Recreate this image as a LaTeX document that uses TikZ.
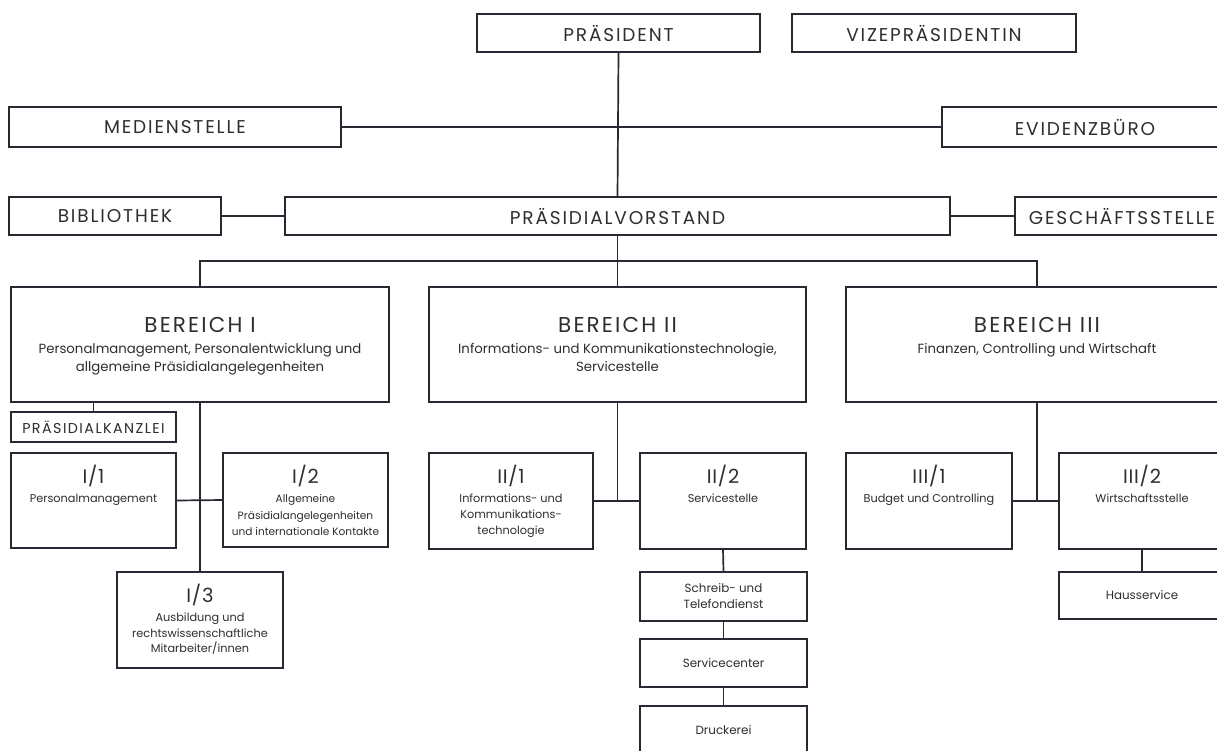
\documentclass[tikz,border=0pt]{standalone}
\usepackage{fontspec}
\setmainfont{Poppins}
\newfontfamily\capsfont[LetterSpace=10]{Poppins}
\newfontfamily\numfont[LetterSpace=4]{Poppins}
\usetikzlibrary{calc}
\definecolor{ink}{HTML}{2B2733}
\definecolor{txt}{HTML}{2E2E30}
\tikzset{
  box/.style={draw=ink, line width=1.8pt, rectangle, inner sep=0pt, outer sep=0pt, fill=white},
  conn/.style={draw=ink, line width=1.7pt},
  capbig/.style={font=\capsfont\fontsize{18.5}{20}\selectfont, text=txt},
  capsmall/.style={font=\capsfont\fontsize{14.3}{16}\selectfont, text=txt},
  titleB/.style={font=\capsfont\fontsize{21.5}{24}\selectfont, text=txt, inner sep=0pt},
  subB/.style={font=\fontsize{13.3}{18}\selectfont, text=txt, align=center, inner sep=0pt, anchor=north},
  titleS/.style={font=\numfont\fontsize{19.5}{22}\selectfont, text=txt, inner sep=0pt},
  subS/.style={font=\fontsize{11.3}{16}\selectfont, text=txt, align=center, inner sep=0pt, anchor=north},
  subT/.style={font=\fontsize{10.6}{16.8}\selectfont, text=txt, align=center, inner sep=0pt, anchor=north},
  small/.style={font=\fontsize{11.9}{16}\selectfont, text=txt, align=center},
}
\begin{document}
\begin{tikzpicture}[x=1pt,y=-1pt]
\useasboundingbox (0,0) rectangle (1217,750);
\clip (0,0) rectangle (1217,750);
\fill[white] (0,0) rectangle (1217,750);

% top level
\node[box, capbig, minimum width=283pt, minimum height=38pt] (pres) at (618.5,33) {PRÄSIDENT};
\node[box, capbig, minimum width=284pt, minimum height=38pt] (vize) at (934,33) {VIZEPRÄSIDENTIN};
\node[box, capbig, minimum width=332pt, minimum height=40pt] (med) at (175,127) {MEDIENSTELLE};
\node[box, capbig, minimum width=286pt, minimum height=40pt] (evid) at (1085,127) {EVIDENZBÜRO};
\node[box, capbig, minimum width=212pt, minimum height=38pt] (bib) at (115,216) {BIBLIOTHEK};
\node[box, capbig, minimum width=665pt, minimum height=38pt] (pv) at (617.5,216) {PRÄSIDIALVORSTAND};
\node[box, capbig, minimum width=214pt, minimum height=38pt] (gesch) at (1122,216) {GESCHÄFTSSTELLE};

% Bereiche
\node[box, minimum width=378pt, minimum height=115pt] (b1) at (200,344.5) {};
\node[titleB] at ($(b1.north)+(0,38)$) {BEREICH I};
\node[subB] at ($(b1.north)+(0,56)$) {Personalmanagement, Personalentwicklung und\\allgemeine Präsidialangelegenheiten};

\node[box, minimum width=377pt, minimum height=115pt] (b2) at (617.5,344.5) {};
\node[titleB] at ($(b2.north)+(0,38)$) {BEREICH II};
\node[subB] at ($(b2.north)+(0,56)$) {Informations- und Kommunikationstechnologie,\\Servicestelle};

\node[box, minimum width=382pt, minimum height=115pt] (b3) at (1037,344.5) {};
\node[titleB] at ($(b3.north)+(0,38)$) {BEREICH III};
\node[subB] at ($(b3.north)+(0,56)$) {Finanzen, Controlling und Wirtschaft};

% Bereich I units
\node[box, capsmall, minimum width=165pt, minimum height=30pt] (kanz) at (93.5,427) {PRÄSIDIALKANZLEI};
\node[box, minimum width=165pt, minimum height=95pt] (i1) at (93.5,500.5) {};
\node[titleS] at ($(i1.north)+(0,23)$) {I/1};
\node[subS] at ($(i1.north)+(0,41)$) {Personalmanagement};
\node[box, minimum width=165pt, minimum height=94pt] (i2) at (305.5,500) {};
\node[titleS] at ($(i2.north)+(0,23)$) {I/2};
\node[subT] at ($(i2.north)+(0,41)$) {Allgemeine\\Präsidialangelegenheiten\\und internationale Kontakte};
\node[box, minimum width=166pt, minimum height=96pt] (i3) at (200,620) {};
\node[titleS] at ($(i3.north)+(0,23)$) {I/3};
\node[subS, font=\fontsize{11.3}{15.5}\selectfont] at ($(i3.north)+(0,41)$) {Ausbildung und\\rechtswissenschaftliche\\Mitarbeiter/innen};

% Bereich II units
\node[box, minimum width=164pt, minimum height=96pt] (ii1) at (511,501) {};
\node[titleS] at ($(ii1.north)+(0,23)$) {II/1};
\node[subS] at ($(ii1.north)+(0,41)$) {Informations- und\\Kommunikations-\\technologie};
\node[box, minimum width=166pt, minimum height=96pt] (ii2) at (723,501) {};
\node[titleS] at ($(ii2.north)+(0,23)$) {II/2};
\node[subS] at ($(ii2.north)+(0,41)$) {Servicestelle};
\node[box, small, minimum width=167pt, minimum height=49pt] (schreib) at (723.5,596.5) {Schreib- und\\Telefondienst};
\node[box, small, minimum width=167pt, minimum height=48pt] (svc) at (723.5,663) {Servicecenter};
\node[box, small, minimum width=167pt, minimum height=48pt] (druck) at (723.5,730) {Druckerei};

% Bereich III units
\node[box, minimum width=166pt, minimum height=96pt] (iii1) at (929,501) {};
\node[titleS] at ($(iii1.north)+(0,23)$) {III/1};
\node[subS] at ($(iii1.north)+(0,41)$) {Budget und Controlling};
\node[box, minimum width=166pt, minimum height=96pt] (iii2) at (1142,501) {};
\node[titleS] at ($(iii2.north)+(0,23)$) {III/2};
\node[subS] at ($(iii2.north)+(0,41)$) {Wirtschaftsstelle};
\node[box, small, minimum width=166pt, minimum height=47pt] (haus) at (1142,595.5) {Hausservice};

% connectors
\coordinate (bus) at (618,261);
\draw[conn] (pres.south) -- (pv.north);
\draw[conn] (med.east) -- (evid.west);
\draw[conn] (bib.east) -- (pv.west);
\draw[conn] (pv.east) -- (gesch.west);
\draw[conn] (pv.south) -- (b2.north);
\draw[conn] (b1.north) |- (bus) -| (b3.north);

\draw[conn] (kanz.north) -- (kanz.north |- b1.south);
\draw[conn] (i3.north) -- (i3.north |- b1.south);
\draw[conn] (i1.east) -- (i2.west);

\draw[conn] (ii1.east) -- (ii2.west);
\draw[conn] (b2.south) -- (b2.south |- ii1.east);
\draw[conn] (ii2.south) -- (schreib.north);
\draw[conn] (schreib.south) -- (svc.north);
\draw[conn] (svc.south) -- (druck.north);

\draw[conn] (iii1.east) -- (iii2.west);
\draw[conn] (b3.south) -- (b3.south |- iii1.east);
\draw[conn] (iii2.south) -- (haus.north);
\end{tikzpicture}
\end{document}
